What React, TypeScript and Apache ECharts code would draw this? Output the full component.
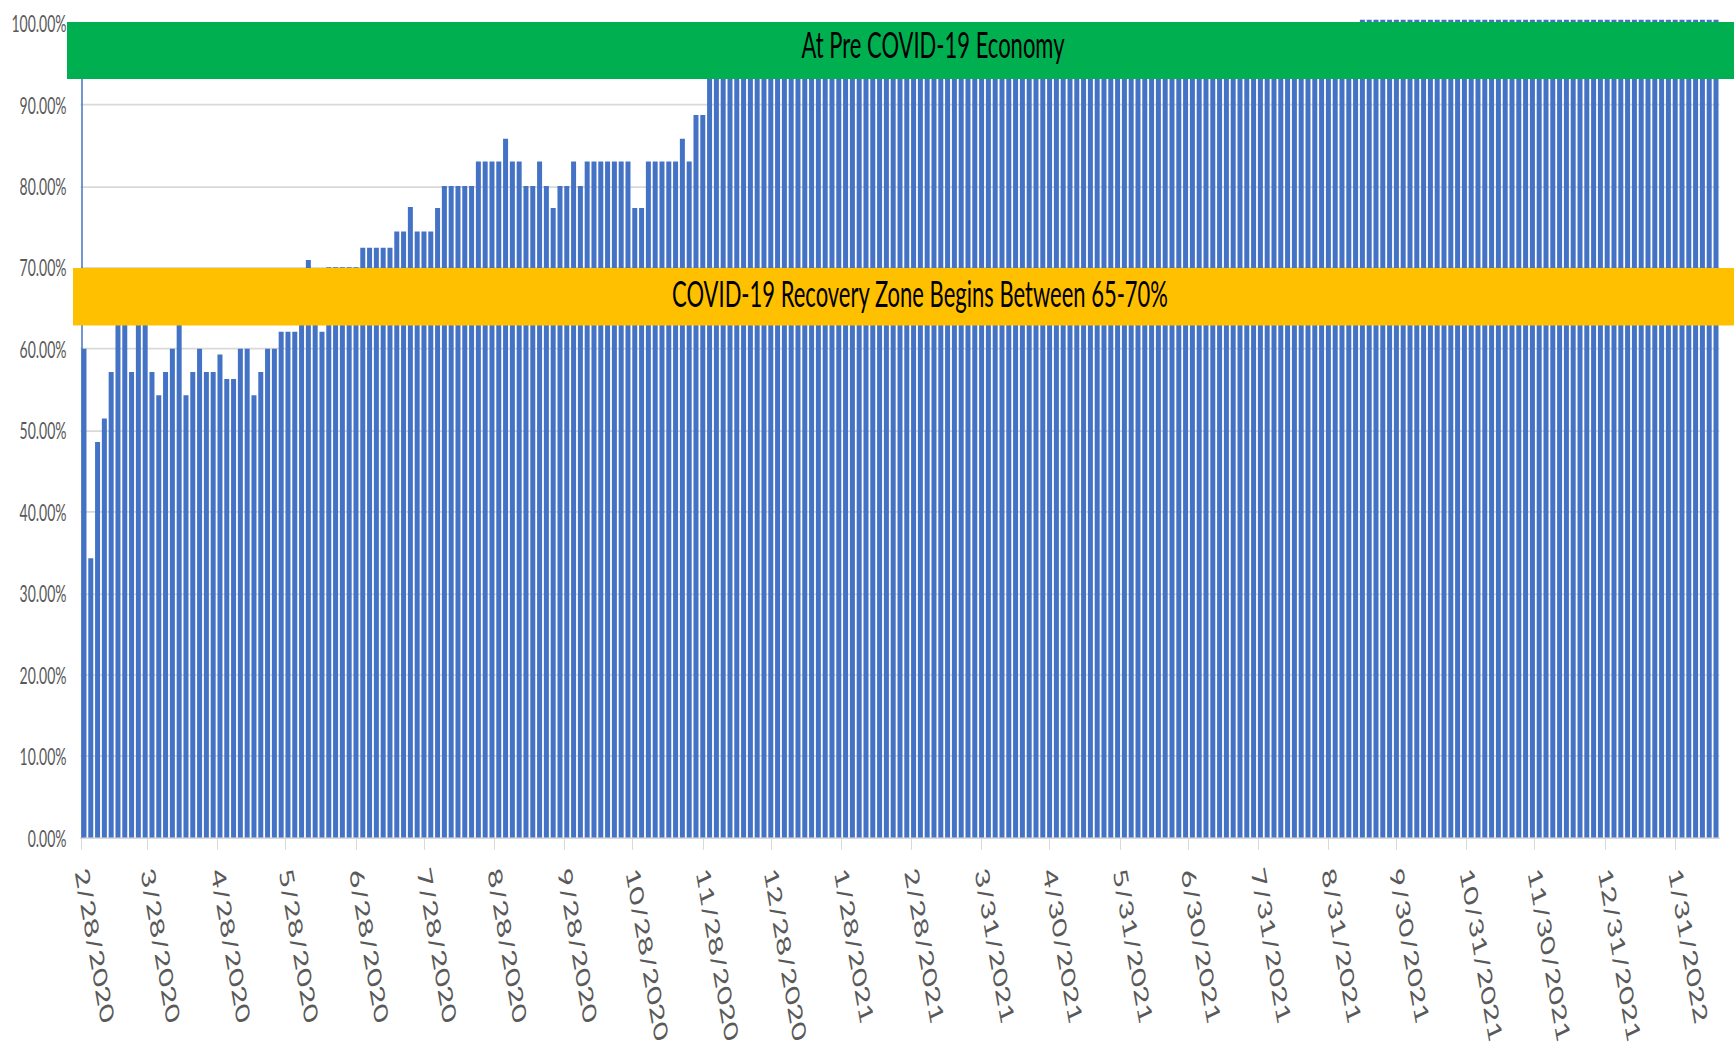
import React, { useEffect, useRef } from 'react';
import * as echarts from 'echarts';

// ---------- data ----------
const START_YEAR = 2020;
const START_MONTH = 2; // February
const START_DAY = 28;
const DAY_COUNT = 723; // daily category slots on the date axis
const SAMPLE_OFFSET = 1; // first plotted reading after the baseline day
const SAMPLE_STEP = 3; // readings every 3 days
const BASELINE_VALUE = 100; // 2/28/2020 pre-COVID baseline

const X_TICK_LABELS = [
  '2/28/2020', '3/28/2020', '4/28/2020', '5/28/2020', '6/28/2020', '7/28/2020',
  '8/28/2020', '9/28/2020', '10/28/2020', '11/28/2020', '12/28/2020', '1/28/2021',
  '2/28/2021', '3/31/2021', '4/30/2021', '5/31/2021', '6/30/2021', '7/31/2021',
  '8/31/2021', '9/30/2021', '10/31/2021', '11/30/2021', '12/31/2021', '1/31/2022',
];

const Y_MIN = 0;
const Y_MAX = 100;
const Y_INTERVAL = 10;

// readings (%) Mar 2020 - Nov 2020
const RECOVERY_EARLY = [
  60.0, 34.29, 48.57, 51.43, 57.14, 65.71, 65.71, 57.14, 65.71, 65.71,
  57.14, 54.29, 57.14, 60.0, 65.71, 54.29, 57.14, 60.0, 57.14, 57.14,
  59.3, 56.3, 56.3, 60.0, 60.0, 54.29, 57.14, 60.0, 60.0, 62.1,
  62.1, 62.1, 65.71, 70.9, 65.71, 62.1, 70.0, 70.0, 70.0, 70.0,
  70.0, 72.4, 72.4, 72.4, 72.4, 72.4, 74.4, 74.4, 77.4, 74.4,
  74.4, 74.4, 77.3, 80.0, 80.0, 80.0, 80.0, 80.0, 83.0, 83.0,
  83.0, 83.0, 85.8, 83.0, 83.0, 80.0, 80.0, 83.0, 80.0, 77.3,
  80.0, 80.0, 83.0, 80.0, 83.0, 83.0, 83.0, 83.0, 83.0, 83.0,
  83.0, 77.3, 77.3, 83.0, 83.0, 83.0, 83.0, 83.0, 85.8, 83.0,
  88.7, 88.7,
];

// readings (%) Dec 2020 - Aug 2021 (inside the pre-COVID band)
const RECOVERY_MID = [
  97.14, 97.14, 97.14, 97.14, 97.14, 97.14, 97.14, 97.14, 97.14, 97.14,
  97.14, 97.14, 97.14, 97.14, 97.14, 97.14, 97.14, 97.14, 97.14, 97.14,
  97.14, 97.14, 97.14, 97.14, 97.14, 97.14, 97.14, 97.14, 97.14, 97.14,
  97.14, 97.14, 97.14, 97.14, 97.14, 97.14, 97.14, 97.14, 97.14, 97.14,
  97.14, 97.14, 97.14, 97.14, 97.14, 97.14, 97.14, 97.14, 97.14, 97.14,
  97.14, 97.14, 97.14, 97.14, 97.14, 97.14, 97.14, 97.14, 97.14, 97.14,
  97.14, 97.14, 97.14, 97.14, 97.14, 97.14, 97.14, 97.14, 97.14, 97.14,
  97.14, 97.14, 97.14, 97.14, 97.14, 97.14, 97.14, 97.14, 97.14, 97.14,
  97.14, 97.14, 97.14, 97.14, 97.14, 97.14, 97.14, 97.14, 97.14, 97.14,
  97.14, 97.14, 97.14, 97.14, 97.14, 97.14,
];

// readings (%) Aug 2021 - Feb 2022
const RECOVERY_LATE = [
  100.4, 100.4, 100.4, 100.4, 100.4, 100.4, 100.4, 100.4, 100.4, 100.4,
  100.4, 100.4, 100.4, 100.4, 100.4, 100.4, 100.4, 100.4, 100.4, 100.4,
  100.4, 100.4, 100.4, 100.4, 100.4, 100.4, 100.4, 100.4, 100.4, 100.4,
  100.4, 100.4, 100.4, 100.4, 100.4, 100.4, 100.4, 100.4, 100.4, 100.4,
  100.4, 100.4, 100.4, 100.4, 100.4, 100.4, 100.4, 100.4, 100.4, 100.4,
  100.4, 100.4, 100.4,
];

const GREEN_BAND_TEXT = 'At Pre COVID-19 Economy';
const YELLOW_BAND_TEXT = 'COVID-19 Recovery Zone Begins Between 65-70%';

// ---------- layout ----------
const PAGE_W = 1734;
const PAGE_H = 1055;
const CHART_H = 640;
const STRETCH = PAGE_H / CHART_H;

function buildDays(): string[] {
  const out: string[] = [];
  const t0 = Date.UTC(START_YEAR, START_MONTH - 1, START_DAY);
  for (let i = 0; i < DAY_COUNT; i++) {
    const d = new Date(t0 + i * 86400000);
    out.push(`${d.getUTCMonth() + 1}/${d.getUTCDate()}/${d.getUTCFullYear()}`);
  }
  return out;
}

function buildOption() {
  const days = buildDays();
  const readings = [...RECOVERY_EARLY, ...RECOVERY_MID, ...RECOVERY_LATE];
  const daily: (number | string)[] = days.map(() => '-');
  readings.forEach((v, k) => {
    daily[SAMPLE_OFFSET + k * SAMPLE_STEP] = v;
  });
  const tickSet = new Set(X_TICK_LABELS);
  const showTick = (_i: number, v: string) => tickSet.has(v);
  const s = (y: number) => y / STRETCH;

  return {
    animation: false,
    backgroundColor: '#ffffff',
    grid: {
      left: 80.57,
      right: 14.6,
      top: s(23),
      bottom: CHART_H - s(837.5),
      containLabel: false,
      outerBoundsMode: 'none',
    },
    xAxis: {
      type: 'category',
      data: days,
      boundaryGap: true,
      axisLine: { show: true, lineStyle: { color: '#d9d9d9', width: 1 } },
      axisTick: {
        show: true,
        alignWithLabel: true,
        interval: showTick,
        length: 7.5,
        lineStyle: { color: '#d9d9d9', width: 1 },
      },
      axisLabel: {
        interval: showTick,
        rotate: -74,
        margin: 19,
        color: '#595959',
        fontFamily: 'Lato',
        fontSize: 19.5,
        lineHeight: 20,
      },
      splitLine: { show: false },
    },
    yAxis: {
      type: 'value',
      min: Y_MIN,
      max: Y_MAX,
      interval: Y_INTERVAL,
      axisLine: { show: false },
      axisTick: { show: false },
      axisLabel: {
        formatter: (v: number) => `${v.toFixed(2)}%`,
        color: '#595959',
        fontFamily: 'Lato',
        fontSize: 14,
        margin: 14,
      },
      splitLine: { lineStyle: { color: '#d9d9d9', width: 1 } },
    },
    series: [
      {
        type: 'bar',
        data: daily,
        barWidth: 5,
        clip: false,
        itemStyle: { color: '#4472C4' },
        markLine: {
          symbol: ['none', 'none'],
          silent: true,
          label: { show: false },
          lineStyle: { color: '#4472C4', width: 1.5, type: 'solid' },
          data: [[{ coord: [days[0], 0] }, { coord: [days[0], BASELINE_VALUE] }]],
        },
      },
    ],
    graphic: [
      {
        type: 'rect',
        z: 100,
        shape: { x: 67, y: s(22), width: 1700, height: s(79) - s(22) },
        style: { fill: '#00B050' },
      },
      {
        type: 'text',
        z: 101,
        x: 933,
        y: s(43.8),
        style: {
          text: GREEN_BAND_TEXT,
          fill: '#000000',
          fontSize: 22,
          fontFamily: 'Lato',
          textAlign: 'center',
          textVerticalAlign: 'middle',
          align: 'center',
          verticalAlign: 'middle',
        },
      },
      {
        type: 'rect',
        z: 100,
        shape: { x: 73, y: s(268), width: 1700, height: s(325.5) - s(268) },
        style: { fill: '#FFC000' },
      },
      {
        type: 'text',
        z: 101,
        x: 920,
        y: s(292.3),
        style: {
          text: YELLOW_BAND_TEXT,
          fill: '#000000',
          fontSize: 22,
          fontFamily: 'Lato',
          textAlign: 'center',
          textVerticalAlign: 'middle',
          align: 'center',
          verticalAlign: 'middle',
        },
      },
    ],
  };
}

export default function App() {
  const ref = useRef<HTMLDivElement>(null);
  useEffect(() => {
    if (!ref.current) return;
    const chart = echarts.init(ref.current, null, { renderer: 'svg' });
    chart.setOption(buildOption() as any);
    return () => chart.dispose();
  }, []);
  return (
    <div
      style={{
        position: 'fixed',
        left: 0,
        top: 0,
        width: PAGE_W,
        height: PAGE_H,
        background: '#ffffff',
        overflow: 'hidden',
      }}
    >
      <div
        ref={ref}
        style={{
          width: PAGE_W,
          height: CHART_H,
          transform: `scaleY(${STRETCH})`,
          transformOrigin: '0 0',
        }}
      />
    </div>
  );
}
